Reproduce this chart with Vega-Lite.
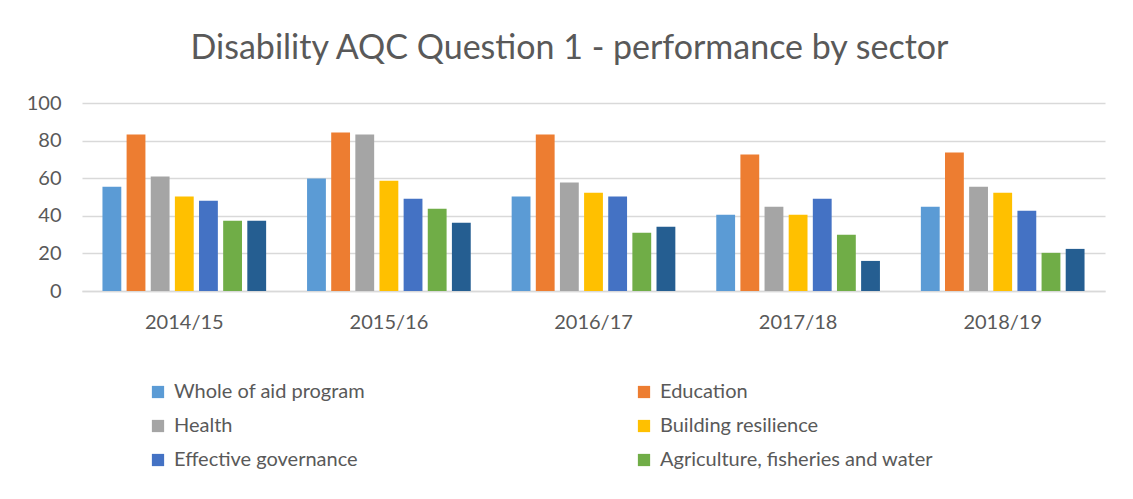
{
  "$schema": "https://vega.github.io/schema/vega-lite/v6.json",
  "width": 1023,
  "height": 188,
  "autosize": {"type": "none"},
  "padding": {"left": 82, "top": 103, "right": 28, "bottom": 208},
  "background": "white",
  "title": {
    "text": "Disability AQC Question 1 - performance by sector",
    "fontSize": 34,
    "font": "Lato",
    "fontWeight": "normal",
    "color": "#595959",
    "anchor": "middle",
    "dx": -24,
    "offset": 27
  },
  "data": {
    "values": [
      {"year": "2014/15", "sector": "Whole of aid program", "value": 55.5},
      {"year": "2014/15", "sector": "Education", "value": 83.3},
      {"year": "2014/15", "sector": "Health", "value": 60.9},
      {"year": "2014/15", "sector": "Building resilience", "value": 50.2},
      {"year": "2014/15", "sector": "Effective governance", "value": 48},
      {"year": "2014/15", "sector": "Agriculture, fisheries and water", "value": 37.4},
      {"year": "2014/15", "sector": "Other sectors", "value": 37.4},
      {"year": "2015/16", "sector": "Whole of aid program", "value": 59.8},
      {"year": "2015/16", "sector": "Education", "value": 84.3},
      {"year": "2015/16", "sector": "Health", "value": 83.3},
      {"year": "2015/16", "sector": "Building resilience", "value": 58.7},
      {"year": "2015/16", "sector": "Effective governance", "value": 49.1},
      {"year": "2015/16", "sector": "Agriculture, fisheries and water", "value": 43.8},
      {"year": "2015/16", "sector": "Other sectors", "value": 36.3},
      {"year": "2016/17", "sector": "Whole of aid program", "value": 50.2},
      {"year": "2016/17", "sector": "Education", "value": 83.3},
      {"year": "2016/17", "sector": "Health", "value": 57.7},
      {"year": "2016/17", "sector": "Building resilience", "value": 52.3},
      {"year": "2016/17", "sector": "Effective governance", "value": 50.2},
      {"year": "2016/17", "sector": "Agriculture, fisheries and water", "value": 31},
      {"year": "2016/17", "sector": "Other sectors", "value": 34.2},
      {"year": "2017/18", "sector": "Whole of aid program", "value": 40.6},
      {"year": "2017/18", "sector": "Education", "value": 72.6},
      {"year": "2017/18", "sector": "Health", "value": 44.8},
      {"year": "2017/18", "sector": "Building resilience", "value": 40.6},
      {"year": "2017/18", "sector": "Effective governance", "value": 49.1},
      {"year": "2017/18", "sector": "Agriculture, fisheries and water", "value": 29.9},
      {"year": "2017/18", "sector": "Other sectors", "value": 16},
      {"year": "2018/19", "sector": "Whole of aid program", "value": 44.8},
      {"year": "2018/19", "sector": "Education", "value": 73.7},
      {"year": "2018/19", "sector": "Health", "value": 55.5},
      {"year": "2018/19", "sector": "Building resilience", "value": 52.3},
      {"year": "2018/19", "sector": "Effective governance", "value": 42.7},
      {"year": "2018/19", "sector": "Agriculture, fisheries and water", "value": 20.3},
      {"year": "2018/19", "sector": "Other sectors", "value": 22.4}
    ]
  },
  "mark": {"type": "bar"},
  "encoding": {
    "x": {
      "field": "year",
      "type": "nominal",
      "sort": null,
      "title": null,
      "scale": {"paddingInner": 0.2, "paddingOuter": 0.1},
      "axis": {
        "labelAngle": 0,
        "labelFontSize": 20,
        "labelFont": "Lato",
        "labelColor": "#595959",
        "labelPadding": 21,
        "ticks": false,
        "domainColor": "#D9D9D9",
        "domainWidth": 1.5
      }
    },
    "xOffset": {
      "field": "sector",
      "type": "nominal",
      "sort": ["Whole of aid program", "Education", "Health", "Building resilience", "Effective governance", "Agriculture, fisheries and water", "Other sectors"],
      "scale": {"paddingInner": 0.22}
    },
    "y": {
      "field": "value",
      "type": "quantitative",
      "title": null,
      "scale": {"domain": [0, 100]},
      "axis": {
        "values": [0, 20, 40, 60, 80, 100],
        "labelFontSize": 20,
        "labelFont": "Lato",
        "labelColor": "#595959",
        "labelPadding": 21,
        "ticks": false,
        "domain": false,
        "gridColor": "#D9D9D9",
        "gridWidth": 1.5
      }
    },
    "color": {
      "field": "sector",
      "type": "nominal",
      "scale": {
        "domain": ["Whole of aid program", "Education", "Health", "Building resilience", "Effective governance", "Agriculture, fisheries and water", "Other sectors"],
        "range": ["#5B9BD5", "#ED7D31", "#A5A5A5", "#FFC000", "#4472C4", "#70AD47", "#255E91"]
      },
      "legend": {
        "title": null,
        "orient": "none",
        "legendX": 66,
        "legendY": 279,
        "direction": "horizontal",
        "columns": 2,
        "values": ["Whole of aid program", "Education", "Health", "Building resilience", "Effective governance", "Agriculture, fisheries and water"],
        "symbolType": "square",
        "symbolSize": 150,
        "symbolStrokeWidth": 0,
        "labelFontSize": 20,
        "labelFont": "Lato",
        "labelColor": "#595959",
        "labelOffset": 6,
        "labelLimit": 400,
        "rowPadding": 14,
        "columnPadding": 268
      }
    }
  },
  "config": {
    "view": {"stroke": null}
  }
}
